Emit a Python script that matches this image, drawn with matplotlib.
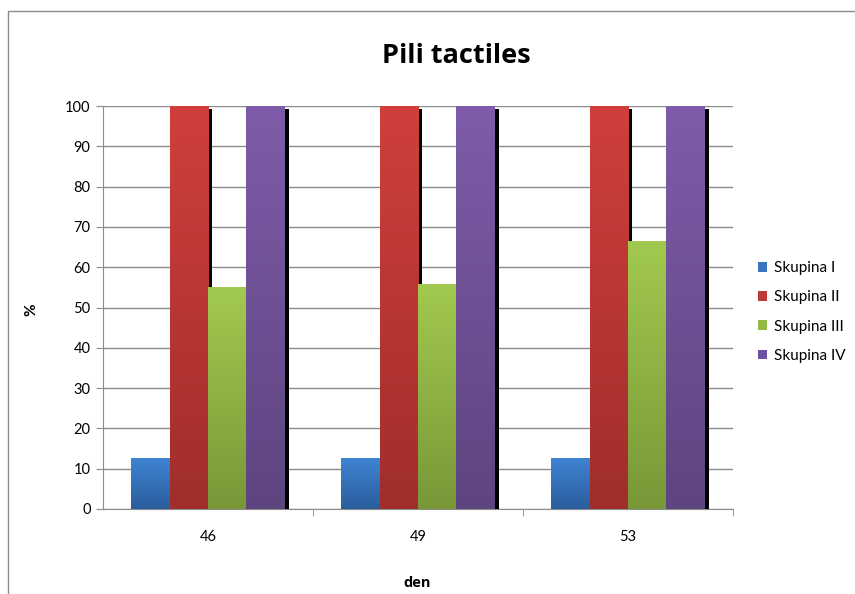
import numpy as np
import matplotlib.pyplot as plt
from matplotlib.patches import Rectangle, Patch
from matplotlib.colors import to_rgb

plt.rcParams['font.family'] = ['Lato', 'DejaVu Sans']

# data
days = ['46', '49', '53']
groups = ['Skupina I', 'Skupina II', 'Skupina III', 'Skupina IV']
skupina_1 = [12.5, 12.5, 12.5]
skupina_2 = [100, 100, 100]
skupina_3 = [55.0, 55.6, 66.3]
skupina_4 = [100, 100, 100]
values = [skupina_1, skupina_2, skupina_3, skupina_4]

# gradient colours (top, bottom) per group
top_colors = ['#3f83d3', '#d03f3b', '#a2c94f', '#7e5ca9']
bottom_colors = ['#2b5e9c', '#a02e2b', '#789838', '#5e4580']
legend_colors = ['#3a74bd', '#c0393a', '#94b846', '#7050a0']

fig = plt.figure(figsize=(8.55, 5.94), dpi=100)
W, H = 855, 594

# outer chart border
fig.patches.append(Rectangle((8 / W, -0.1), 1.2, 1 - 11 / H + 0.1,
                             transform=fig.transFigure, fill=False,
                             edgecolor='#8c8c8c', lw=1.0))

ax = fig.add_axes([103 / W, 1 - 509 / H, 630 / W, 403 / H])

bar_w = 0.183
shift_x = 4 / 210
shift_y = 0.75
x = np.arange(len(days))

def gradient(c_top, c_bot, n=64):
    a = np.array(to_rgb(c_top))
    b = np.array(to_rgb(c_bot))
    t = np.linspace(0, 1, n)[:, None]
    return (a * (1 - t) + b * t)[:, None, :]

for i, vals in enumerate(values):
    grad = gradient(top_colors[i], bottom_colors[i])
    for j, v in enumerate(vals):
        x0 = x[j] - 2 * bar_w + i * bar_w
        # shadow on the right
        ax.add_patch(Rectangle((x0 + shift_x, 0), bar_w, v - shift_y,
                               facecolor='black', edgecolor='none',
                               zorder=2 + 2 * i))
        ax.imshow(grad, extent=(x0, x0 + bar_w, 0, v), origin='upper',
                  aspect='auto', interpolation='bilinear', zorder=3 + 2 * i)

ax.set_xlim(-0.5, 2.5)
ax.set_ylim(0, 100)
ax.set_yticks(range(0, 101, 10))
ax.set_xticks(x)
ax.set_xticklabels(days)
ax.set_xticks([0.5, 1.5, 2.5], minor=True)
ax.tick_params(axis='x', which='major', length=0, pad=15, labelsize=10.5)
ax.tick_params(axis='x', which='minor', length=5, color='#8c8c8c')
ax.tick_params(axis='y', length=5, color='#8c8c8c', pad=4, labelsize=10.5)
ax.grid(axis='y', color='#8c8c8c', lw=1.0)
ax.set_axisbelow(True)
for s in ['top', 'right']:
    ax.spines[s].set_visible(False)
for s in ['left', 'bottom']:
    ax.spines[s].set_color('#8c8c8c')

fig.text(456 / W, 1 - 56 / H, 'Pili tactiles', fontsize=19.5, fontweight='bold',
         family='Open Sans', ha='center', va='center')
fig.text(417 / W, 1 - 583 / H, 'den', fontsize=10.5, fontweight='bold',
         family='Open Sans', ha='center', va='center')
fig.text(31 / W, 1 - 310 / H, '%', fontsize=11, fontweight='bold',
         rotation=90, ha='center', va='center')

handles = [Patch(facecolor=c, edgecolor='none') for c in legend_colors]
fig.legend(handles, groups, loc='upper left', bbox_to_anchor=(752 / W, 1 - 255 / H),
           frameon=False, fontsize=11, handlelength=0.6, handleheight=0.6,
           handletextpad=0.45, labelspacing=1.0, borderaxespad=0)

fig.savefig('out.png', dpi=100)
